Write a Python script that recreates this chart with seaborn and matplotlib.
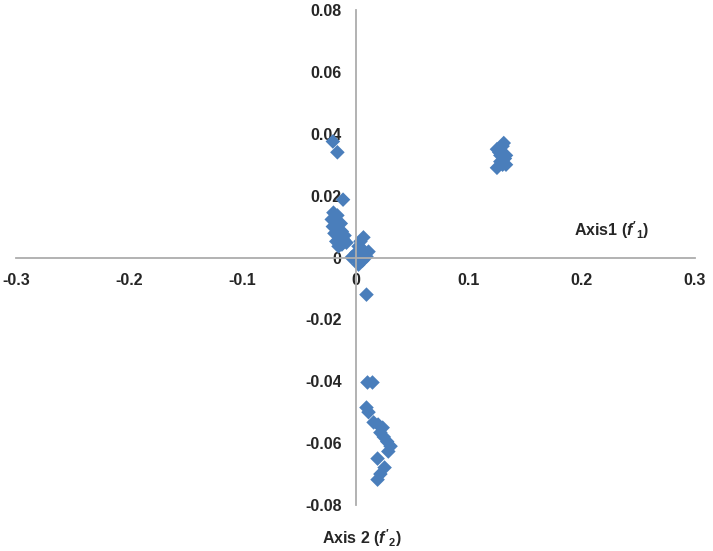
import matplotlib
matplotlib.use("Agg")
import matplotlib.pyplot as plt
import seaborn as sns
import pandas as pd

# --- data ---
axis1 = [
    -0.020, -0.016, -0.011,
    0.125, 0.127, 0.130, 0.131, 0.128, 0.133, 0.132, 0.128, 0.133, 0.125, 0.130,
    -0.0195, -0.016, -0.021, -0.017, -0.013, -0.020, -0.016, -0.012, -0.0186,
    -0.014, -0.0106, -0.017, -0.012, -0.008, -0.015, -0.0097,
    0.007, 0.0044, 0.0027, 0.0062, 0.0009, 0.0053, 0.0097, -0.0035, 0.0009,
    0.0062, 0.0027, 0.0115,
    0.0097,
    0.0106, 0.015, 0.0097, 0.0115, 0.016, 0.020, 0.024, 0.022, 0.025, 0.028,
    0.031, 0.029, 0.0195, 0.0257, 0.022, 0.0195,
]
axis2 = [
    0.0375, 0.034, 0.0187,
    0.035, 0.034, 0.036, 0.037, 0.033, 0.033, 0.032, 0.031, 0.030, 0.029, 0.030,
    0.0145, 0.0136, 0.0123, 0.0116, 0.011, 0.010, 0.0094, 0.0084, 0.0078,
    0.0068, 0.0058, 0.0052, 0.0042, 0.0048, 0.0036, 0.0071,
    0.0065, 0.0052, 0.0036, 0.0026, 0.0016, 0.0006, 0.0003, 0.0, -0.0006,
    -0.001, -0.0023, 0.0019,
    -0.012,
    -0.0404, -0.0404, -0.0485, -0.050, -0.0533, -0.054, -0.055, -0.0566, -0.058,
    -0.0595, -0.061, -0.0627, -0.065, -0.0679, -0.070, -0.0718,
]
x_ticks = [-0.3, -0.2, -0.1, 0.0, 0.1, 0.2, 0.3]
x_labels = ["-0.3", "-0.2", "-0.1", "0", "0.1", "0.2", "0.3"]
y_ticks = [-0.08, -0.06, -0.04, -0.02, 0.0, 0.02, 0.04, 0.06, 0.08]
y_labels = ["-0.08", "-0.06", "-0.04", "-0.02", "0", "0.02", "0.04", "0.06", "0.08"]

df = pd.DataFrame({"axis1": axis1, "axis2": axis2})

sns.set_style("white")
plt.rcParams["font.family"] = ["Liberation Sans", "DejaVu Sans"]
plt.rcParams["mathtext.fontset"] = "custom"
plt.rcParams["mathtext.it"] = "Liberation Sans:italic:bold"
plt.rcParams["mathtext.rm"] = "Liberation Sans:bold"
plt.rcParams["mathtext.bf"] = "Liberation Sans:bold"

fig = plt.figure(figsize=(7.13, 5.51), dpi=100)
ax = fig.add_axes([16 / 713, 46 / 551, (695 - 16) / 713, (505 - 10) / 551])

sns.scatterplot(data=df, x="axis1", y="axis2", marker="D", s=55,
                color="#4A7EBB", edgecolor="none", ax=ax, legend=False)

ax.set_xlim(-0.3, 0.3)
ax.set_ylim(-0.08, 0.08)
ax.set_xlabel("")
ax.set_ylabel("")

grey = "#ADADAD"
for side in ["top", "right"]:
    ax.spines[side].set_visible(False)
ax.spines["left"].set_position(("data", 0))
ax.spines["bottom"].set_position(("data", 0))
for side in ["left", "bottom"]:
    ax.spines[side].set_color(grey)
    ax.spines[side].set_linewidth(1.3)

ax.set_xticks(x_ticks)
ax.set_xticklabels(x_labels, fontsize=11.5, fontweight="bold")
ax.set_yticks(y_ticks)
ax.set_yticklabels(y_labels, fontsize=11.5, fontweight="bold")
ax.tick_params(axis="x", direction="out", length=5, color=grey, width=1.3, pad=6)
ax.tick_params(axis="y", direction="out", length=5, color=grey, width=1.3, pad=5)

ax.text(0.226, 0.009, r"Axis1 ($f'_1$)", fontsize=11.5, fontweight="bold",
        ha="center", va="center")
fig.text(362 / 713, 1 - 538 / 551, r"Axis 2 ($f'_2$)", fontsize=11.5,
         fontweight="bold", ha="center", va="center")

fig.savefig("out.png", dpi=100)
